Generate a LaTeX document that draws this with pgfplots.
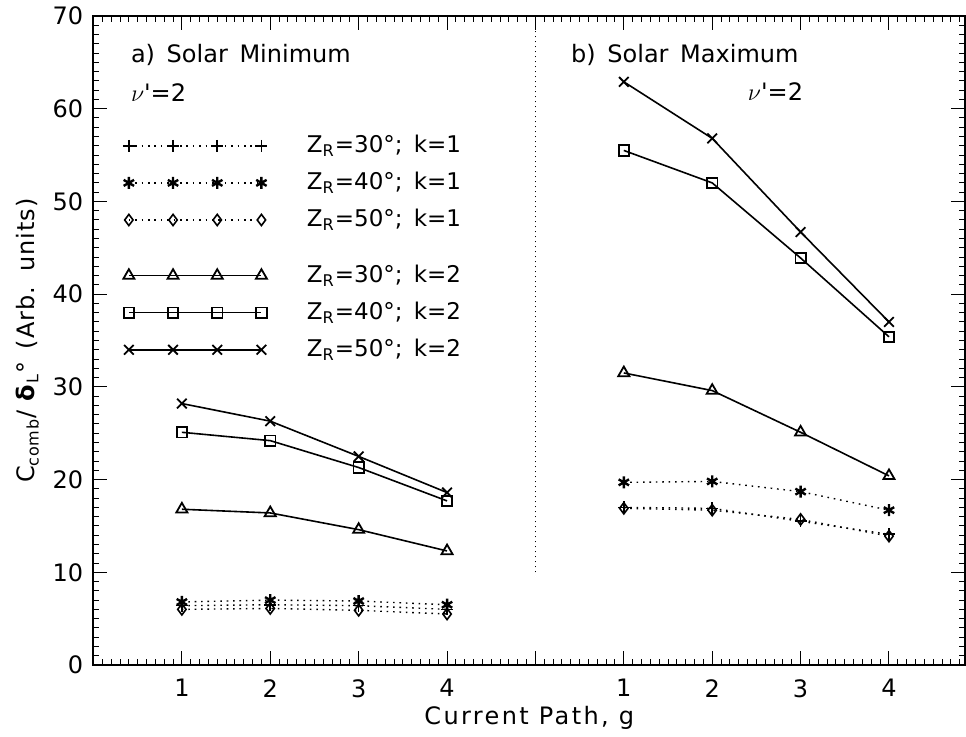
\documentclass[border=0pt]{standalone}
\usepackage{fontspec}
\setmainfont{DejaVu Sans}
\usepackage{pgfplots}
\pgfplotsset{compat=1.18}
\begin{document}
\fontsize{12}{14}\selectfont
\begin{tikzpicture}
\begin{axis}[
  name=ax, at={(0,0)}, anchor=south west,
  scale only axis, width=435.75pt, height=324.5pt,
  xmin=0, xmax=9.86, ymin=0, ymax=70,
  xtick={0,1,2,3,4,5,6,7,8,9},
  xticklabels={,1,2,3,4,,1,2,3,4},
  ytick={0,10,20,30,40,50,60,70},
  minor xtick={0,0.1,...,9.85},
  minor ytick={0,1,...,70},
  tick align=inside, xtick pos=both, ytick pos=both,
  major tick length=7pt, minor tick length=3pt,
  tick style={line width=0.5pt, black},
  minor tick style={line width=0.5pt, black},
  axis line style={line width=1pt},
  /pgf/number format/assume math mode=true,
  font=\fontsize{12}{14}\selectfont,
  xticklabel style={yshift=-3pt},
  yticklabel style={xshift=-1pt},
  every axis x label/.style={at={(axis description cs:0.5,0)}, anchor=center, yshift=-26.5pt},
  every axis y label/.style={at={(axis description cs:0,0.5)}, xshift=-33pt, rotate=90, anchor=center},
  xlabel={\addfontfeatures{LetterSpace=10}Current Path, g},
  ylabel={\addfontfeatures{LetterSpace=4}C\textsubscript{comb}/ \textbf{δ}\textsubscript{L}°\, (Arb.\, units)},
  clip=false,
]
% separator
\addplot[black, line width=0.7pt, dash pattern=on 0.7pt off 1.8pt] coordinates {(5,10) (5,70)};

% --- legend samples ---
\addplot[black, line width=0.7pt, dash pattern=on 0.8pt off 2.4pt, mark=+, mark size=3pt, mark options={solid, line width=0.8pt}] coordinates {(0.4,56) (0.9,56) (1.4,56) (1.9,56)};
\addplot[black, line width=0.7pt, dash pattern=on 0.8pt off 2.4pt, mark=asterisk, mark size=3pt, mark options={solid, line width=1.2pt}] coordinates {(0.4,52) (0.9,52) (1.4,52) (1.9,52)};
\addplot[black, line width=0.7pt, dash pattern=on 0.8pt off 2.4pt, mark=diamond, mark size=2.8pt, mark options={solid, line width=0.8pt}] coordinates {(0.4,48) (0.9,48) (1.4,48) (1.9,48)};
\addplot[black, line width=0.8pt, mark=triangle, mark size=3.2pt, mark options={solid, line width=0.9pt}] coordinates {(0.4,42) (0.9,42) (1.4,42) (1.9,42)};
\addplot[black, line width=0.8pt, mark=square, mark size=2.6pt, mark options={solid, line width=0.9pt}] coordinates {(0.4,38) (0.9,38) (1.4,38) (1.9,38)};
\addplot[black, line width=0.8pt, mark=x, mark size=3.4pt, mark options={solid, line width=0.9pt}] coordinates {(0.4,34) (0.9,34) (1.4,34) (1.9,34)};

% --- a) Solar minimum ---
\addplot[black, line width=0.7pt, dash pattern=on 0.8pt off 2.4pt, mark=+, mark size=3pt, mark options={solid, line width=0.8pt}] coordinates {(1,6.4) (2,6.5) (3,6.4) (4,6.0)};
\addplot[black, line width=0.7pt, dash pattern=on 0.8pt off 2.4pt, mark=asterisk, mark size=3pt, mark options={solid, line width=1.2pt}] coordinates {(1,6.8) (2,7.0) (3,6.9) (4,6.5)};
\addplot[black, line width=0.7pt, dash pattern=on 0.8pt off 2.4pt, mark=diamond, mark size=2.8pt, mark options={solid, line width=0.8pt}] coordinates {(1,6.0) (2,6.1) (3,5.9) (4,5.5)};
\addplot[black, line width=0.8pt, mark=triangle, mark size=3.2pt, mark options={solid, line width=0.9pt}] coordinates {(1,16.8) (2,16.4) (3,14.6) (4,12.3)};
\addplot[black, line width=0.8pt, mark=square, mark size=2.6pt, mark options={solid, line width=0.9pt}] coordinates {(1,25.1) (2,24.2) (3,21.3) (4,17.7)};
\addplot[black, line width=0.8pt, mark=x, mark size=3.4pt, mark options={solid, line width=0.9pt}] coordinates {(1,28.2) (2,26.3) (3,22.5) (4,18.6)};

% --- b) Solar maximum ---
\addplot[black, line width=0.7pt, dash pattern=on 0.8pt off 2.4pt, mark=+, mark size=3pt, mark options={solid, line width=0.8pt}] coordinates {(6,17.0) (7,16.9) (8,15.5) (9,14.1)};
\addplot[black, line width=0.7pt, dash pattern=on 0.8pt off 2.4pt, mark=asterisk, mark size=3pt, mark options={solid, line width=1.2pt}] coordinates {(6,19.7) (7,19.8) (8,18.7) (9,16.7)};
\addplot[black, line width=0.7pt, dash pattern=on 0.8pt off 2.4pt, mark=diamond, mark size=2.8pt, mark options={solid, line width=0.8pt}] coordinates {(6,16.9) (7,16.7) (8,15.7) (9,13.9)};
\addplot[black, line width=0.8pt, mark=triangle, mark size=3.2pt, mark options={solid, line width=0.9pt}] coordinates {(6,31.5) (7,29.6) (8,25.1) (9,20.4)};
\addplot[black, line width=0.8pt, mark=square, mark size=2.6pt, mark options={solid, line width=0.9pt}] coordinates {(6,55.5) (7,52.0) (8,43.9) (9,35.4)};
\addplot[black, line width=0.8pt, mark=x, mark size=3.4pt, mark options={solid, line width=0.9pt}] coordinates {(6,62.9) (7,56.8) (8,46.7) (9,37.0)};

% texts
\node[anchor=west, inner sep=0pt] at (axis cs:0.42,65.8) {a)\, Solar\, Minimum};
\node[anchor=west, inner sep=0pt] at (axis cs:0.42,61.7) {$\nu$\textquotesingle=2};
\node[anchor=west, inner sep=0pt] at (axis cs:5.40,65.8) {b)\, Solar\, Maximum};
\node[anchor=west, inner sep=0pt] at (axis cs:7.40,61.8) {$\nu$\textquotesingle=2};
\begin{scope}[every node/.style={anchor=west, inner sep=0pt, font=\fontsize{11.5}{13}\selectfont}]
\node at (axis cs:2.41,56) {Z\textsubscript{R}=30°;\, k=1};
\node at (axis cs:2.41,52) {Z\textsubscript{R}=40°;\, k=1};
\node at (axis cs:2.41,48) {Z\textsubscript{R}=50°;\, k=1};
\node at (axis cs:2.41,42) {Z\textsubscript{R}=30°;\, k=2};
\node at (axis cs:2.41,38) {Z\textsubscript{R}=40°;\, k=2};
\node at (axis cs:2.41,34) {Z\textsubscript{R}=50°;\, k=2};
\end{scope}
\end{axis}
\pgfresetboundingbox
\path (-46.75pt,-35.5pt) rectangle (436.25pt,332.5pt);
\end{tikzpicture}
\end{document}
